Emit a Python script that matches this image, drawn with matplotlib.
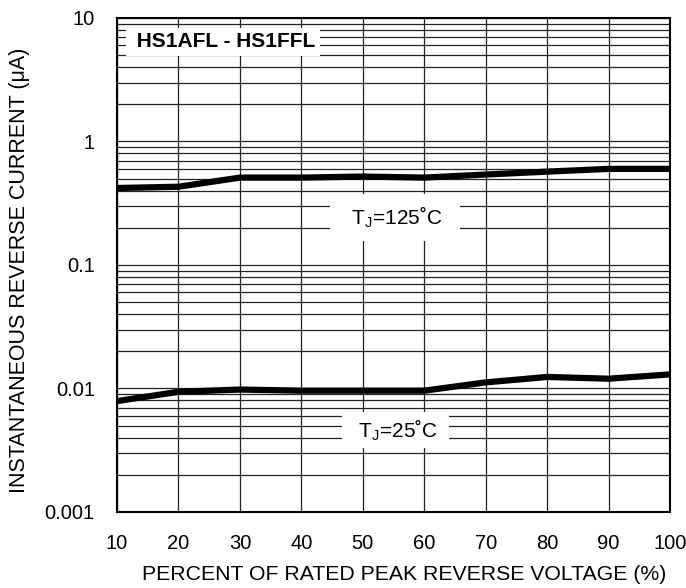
import numpy as np
import matplotlib.pyplot as plt
from matplotlib.ticker import LogLocator, NullFormatter

plt.rcParams['font.family'] = ['Liberation Sans', 'DejaVu Sans']
plt.rcParams['mathtext.fontset'] = 'custom'
plt.rcParams['mathtext.rm'] = 'Liberation Sans'

###
# Data
###

voltage_pct = [10, 20, 30, 40, 50, 60, 70, 80, 90, 100]
current_125c = [0.42, 0.43, 0.51, 0.51, 0.52, 0.51, 0.54, 0.57, 0.60, 0.60]
current_25c = [0.0079, 0.0094, 0.0098, 0.0096, 0.0096, 0.0096, 0.0112, 0.0124, 0.0120, 0.0130]

x_ticks = [10, 20, 30, 40, 50, 60, 70, 80, 90, 100]
y_ticks = [0.001, 0.01, 0.1, 1, 10]
y_tick_labels = ["0.001", "0.01", "0.1", "1", "10"]

###
# Plotting
###

fig = plt.figure(figsize=(6.86, 5.88), dpi=100)
ax = fig.add_axes([0.1706, 0.1293, 0.8061, 0.8401])

ax.set_yscale("log")
ax.set_xlim(10, 100)
ax.set_ylim(0.001, 10)

ax.set_xticks(x_ticks)
ax.set_yticks(y_ticks)
ax.set_yticklabels(y_tick_labels)
ax.yaxis.set_minor_locator(LogLocator(base=10, subs=np.arange(2, 10)))
ax.yaxis.set_minor_formatter(NullFormatter())

ax.grid(True, which="major", axis="both", color="#222222", linewidth=0.9)
ax.grid(True, which="minor", axis="y", color="#222222", linewidth=0.9)
ax.tick_params(axis="both", which="both", length=0, labelsize=14.5, pad=16)

for spine in ax.spines.values():
    spine.set_linewidth(1.5)
    spine.set_color("black")

ax.plot(voltage_pct, current_125c, color="black", linewidth=4.5, solid_capstyle="round", zorder=3)
ax.plot(voltage_pct, current_25c, color="black", linewidth=4.5, solid_capstyle="round", zorder=3)

ax.text(55.2, 0.243, "  T$_\\mathregular{J}$=125˚C  ", fontsize=15,
        ha="center", va="center", bbox=dict(facecolor="white", edgecolor="none", pad=7.5), zorder=4)
ax.text(55.3, 0.00461, "  T$_\\mathregular{J}$=25˚C  ", fontsize=15,
        ha="center", va="center", bbox=dict(facecolor="white", edgecolor="none", pad=3.5), zorder=4)
ax.text(12.2, 6.4, " HS1AFL - HS1FFL", fontsize=15, fontweight="bold",
        ha="left", va="center", bbox=dict(facecolor="white", edgecolor="none", pad=3.5), zorder=4)

ax.set_xlabel("PERCENT OF RATED PEAK REVERSE VOLTAGE (%)", fontsize=15.3)
ax.set_ylabel("INSTANTANEOUS REVERSE CURRENT (μA)", fontsize=15.5)
ax.xaxis.set_label_coords(0.519, -0.108)
ax.yaxis.set_label_coords(-0.158, 0.489)

fig.savefig("out.png", dpi=100)
